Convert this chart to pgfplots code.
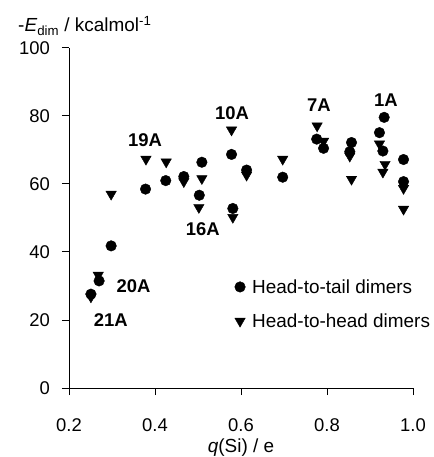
\documentclass[border=0pt]{standalone}
\usepackage{fontspec}
\setmainfont{Liberation Sans}
\usepackage{pgfplots}
\pgfplotsset{compat=1.18}
\begin{document}
\begin{tikzpicture}[font=\fontsize{18.5}{22}\selectfont]
\begin{axis}[
  at={(0,0)}, anchor=south west,
  scale only axis, width=344bp, height=340bp,
  xmin=0.2, xmax=1.0, ymin=0, ymax=100,
  axis x line*=bottom, axis y line*=left,
  axis line style={line width=1bp},
  tick align=outside, major tick length=7bp,
  tick style={line width=1bp, black},
  xtick={0.2,0.4,0.6,0.8,1.0}, ytick={0,20,40,60,80,100},
  /pgf/number format/assume math mode=true,
  xticklabel style={/pgf/number format/fixed, /pgf/number format/fixed zerofill, /pgf/number format/precision=1},
  xticklabel style={anchor=north, inner sep=0pt, yshift=-23bp},
  yticklabel style={anchor=east, inner sep=0pt, xshift=-12bp},
  legend style={draw=none, fill=none, at={(axis cs:0.585,32.6)}, anchor=north west,
    font=\fontsize{19}{22}\selectfont, row sep=15bp, inner sep=0pt},
  legend cell align=left,
  legend image code/.code={\draw[#1] plot coordinates {(0bp,0bp)}; \path (10bp,0bp);},
]
\addplot[only marks, mark=*, mark size=5.3bp, black, mark options={fill=black}] coordinates {
(0.251,27.6) (0.270,31.5) (0.298,41.8) (0.378,58.5) (0.425,61.0) (0.467,62.2)
(0.509,66.4) (0.503,56.7) (0.578,68.7) (0.581,52.8) (0.613,64.1) (0.697,62.0)
(0.776,73.2) (0.792,70.5) (0.857,72.2) (0.853,69.5) (0.933,79.6) (0.922,75.1)
(0.930,69.7) (0.978,67.2) (0.978,60.7)
};
\addlegendentry{Head-to-tail dimers}
\addplot[only marks, mark=triangle*, mark size=6bp, black, mark options={fill=black, rotate=180}] coordinates {
(0.251,26.8) (0.268,33.2) (0.298,57.0) (0.379,67.3) (0.426,66.5) (0.467,60.7)
(0.509,61.6) (0.502,53.1) (0.578,75.9) (0.581,50.2) (0.613,62.6) (0.697,67.3)
(0.777,77.1) (0.792,72.6) (0.853,68.2) (0.857,61.4) (0.922,71.8) (0.935,65.8)
(0.930,63.5) (0.978,58.7) (0.978,52.6)
};
\addlegendentry{Head-to-head dimers}
\node[font=\fontsize{18.5}{22}\selectfont\bfseries] at (axis cs:0.377,72.9) {19A};
\node[font=\fontsize{18.5}{22}\selectfont\bfseries] at (axis cs:0.511,46.7) {16A};
\node[font=\fontsize{18.5}{22}\selectfont\bfseries] at (axis cs:0.350,30.1) {20A};
\node[font=\fontsize{18.5}{22}\selectfont\bfseries] at (axis cs:0.297,20.0) {21A};
\node[font=\fontsize{18.5}{22}\selectfont\bfseries] at (axis cs:0.579,80.9) {10A};
\node[font=\fontsize{18.5}{22}\selectfont\bfseries] at (axis cs:0.781,83.2) {7A};
\node[font=\fontsize{18.5}{22}\selectfont\bfseries] at (axis cs:0.937,84.7) {1A};
\end{axis}
\node[anchor=base west, inner sep=0pt, font=\fontsize{19}{22}\selectfont] at (-51bp,356bp) {-\textit{E}\textsubscript{dim} / kcalmol\textsuperscript{-1}};
\node[anchor=base, inner sep=0pt, font=\fontsize{19}{22}\selectfont] at (172bp,-64bp) {\textit{q}(Si) / e};
\pgfresetboundingbox
\useasboundingbox (-69bp,-69bp) rectangle (365bp,388bp);
\end{tikzpicture}
\end{document}
